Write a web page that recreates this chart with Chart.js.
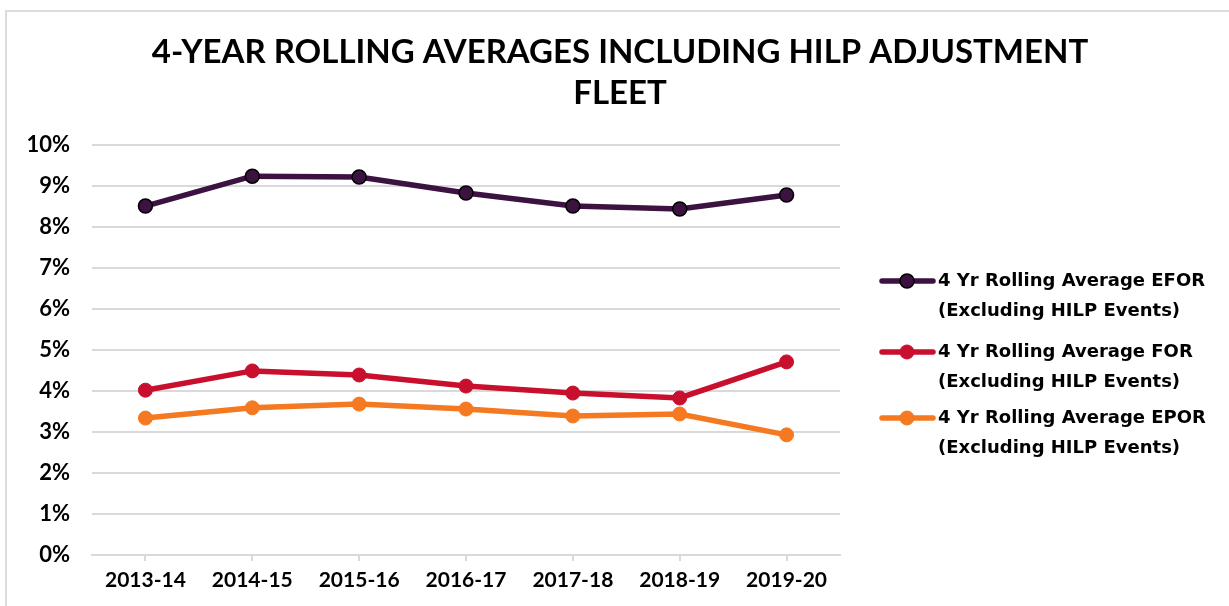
<!DOCTYPE html>
<html>
<head>
<meta charset="utf-8">
<title>4-Year Rolling Averages Including HILP Adjustment - Fleet</title>
<script src="https://cdn.jsdelivr.net/npm/chart.js@4/dist/chart.umd.min.js"></script>
<style>
    html, body { margin: 0; padding: 0; background: #fff; }
    .chart-wrap { position: relative; width: 1229px; height: 606px; overflow: hidden; }
    .frame { position: absolute; left: 5px; top: 10px; right: -10px; bottom: -10px; border: 2px solid #dcdcdc; }
    canvas { position: absolute; left: 0; top: 0; }
</style>
</head>
<body>
<div class="chart-wrap">
    <div class="frame"></div>
    <canvas id="chart" width="1229" height="606"></canvas>
</div>
<script>
// values in percent
const years = ['2013-14', '2014-15', '2015-16', '2016-17', '2017-18', '2018-19', '2019-20'];
const efor = [8.51, 9.24, 9.22, 8.83, 8.51, 8.44, 8.78];
const forRate = [4.02, 4.49, 4.39, 4.12, 3.95, 3.83, 4.71];
const epor = [3.34, 3.59, 3.68, 3.56, 3.39, 3.44, 2.93];
const yTicks = [0, 1, 2, 3, 4, 5, 6, 7, 8, 9, 10];

const titleLines = ['4-YEAR ROLLING AVERAGES INCLUDING HILP ADJUSTMENT', 'FLEET'];
const seriesNames = [
    ['4 Yr Rolling Average EFOR', '(Excluding HILP Events)'],
    ['4 Yr Rolling Average FOR', '(Excluding HILP Events)'],
    ['4 Yr Rolling Average EPOR', '(Excluding HILP Events)']
];
const seriesColors = ['#3b1240', '#c8102e', '#f47920'];

const fontFamily = "Lato, 'DejaVu Sans', sans-serif";
const legendFont = "bold 18px 'DejaVu Sans', sans-serif";

const makeSeries = (idx, values, border) => ({
    label: seriesNames[idx].join(' '),
    data: values,
    borderColor: seriesColors[idx],
    backgroundColor: seriesColors[idx],
    borderWidth: 5.5,
    pointRadius: 7,
    pointHoverRadius: 7,
    pointBackgroundColor: seriesColors[idx],
    pointBorderColor: border || seriesColors[idx],
    pointBorderWidth: border ? 1.5 : 1,
    tension: 0
});

// title is centred on the whole frame, not just the plot, so draw it here
const frameTitle = {
    id: 'frameTitle',
    afterDraw(chart) {
        const ctx = chart.ctx;
        ctx.save();
        ctx.fillStyle = '#000';
        ctx.font = 'bold 33px ' + fontFamily;
        ctx.textAlign = 'center';
        ctx.textBaseline = 'alphabetic';
        ctx.fillText(titleLines[0], 620, 63);
        ctx.fillText(titleLines[1], 620, 104);
        ctx.restore();
    }
};

// legend with two-line labels, to the right of the plot
const sideLegend = {
    id: 'sideLegend',
    afterDraw(chart) {
        const ctx = chart.ctx;
        const tops = [281, 352, 418];
        ctx.save();
        chart.data.datasets.forEach((ds, i) => {
            const y = tops[i];
            ctx.strokeStyle = ds.borderColor;
            ctx.lineWidth = 5.5;
            ctx.lineCap = 'round';
            ctx.beginPath();
            ctx.moveTo(882, y);
            ctx.lineTo(933, y);
            ctx.stroke();
            ctx.beginPath();
            ctx.arc(907, y, 7, 0, Math.PI * 2);
            ctx.fillStyle = ds.pointBackgroundColor;
            ctx.fill();
            ctx.lineWidth = ds.pointBorderWidth;
            ctx.strokeStyle = ds.pointBorderColor;
            ctx.stroke();

            ctx.fillStyle = '#000';
            ctx.font = legendFont;
            ctx.textAlign = 'left';
            ctx.textBaseline = 'middle';
            seriesNames[i].forEach((line, j) => {
                ctx.fillText(line, 938, y + j * 30);
            });
        });
        ctx.restore();
    }
};

const ctx = document.getElementById('chart').getContext('2d');
new Chart(ctx, {
    type: 'line',
    data: {
        labels: years,
        datasets: [
            makeSeries(0, efor, '#000'),
            makeSeries(1, forRate),
            makeSeries(2, epor)
        ]
    },
    options: {
        responsive: false,
        animation: false,
        events: [],
        layout: { padding: { left: 0, right: 389, top: 145, bottom: 0 } },
        plugins: {
            legend: { display: false },
            tooltip: { enabled: false },
            title: { display: false }
        },
        scales: {
            x: {
                offset: true,
                afterFit(scale) {
                    scale.height = 51;
                },
                grid: {
                    offset: false,
                    drawOnChartArea: false,
                    drawTicks: true,
                    tickLength: 6,
                    color: '#d9d9d9',
                    lineWidth: 2
                },
                border: { color: '#d9d9d9', width: 2 },
                ticks: {
                    color: '#000',
                    padding: 7,
                    maxRotation: 0,
                    font: { family: fontFamily, size: 21, weight: 'bold' }
                }
            },
            y: {
                min: 0,
                max: 10,
                afterBuildTicks(scale) {
                    scale.ticks = yTicks.map(v => ({ value: v }));
                },
                afterFit(scale) {
                    scale.width = 92;
                },
                grid: { color: '#d9d9d9', lineWidth: 2, drawTicks: false },
                border: { display: false },
                ticks: {
                    color: '#000',
                    padding: 22,
                    font: { family: fontFamily, size: 22, weight: 'bold' },
                    callback: v => v + '%'
                }
            }
        }
    },
    plugins: [frameTitle, sideLegend]
});
</script>
</body>
</html>
